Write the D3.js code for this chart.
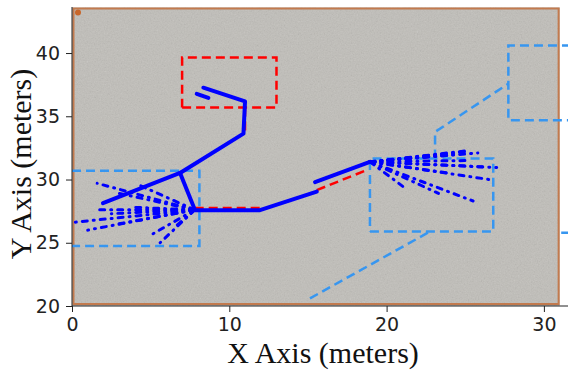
<!DOCTYPE html>
<html>
<head>
<meta charset="utf-8">
<script src="https://cdn.jsdelivr.net/npm/d3@7"></script>
<style>
  body { margin: 0; background: #fff; }
  .axis text { font-family: "DejaVu Sans", sans-serif; font-size: 19px; fill: #222; }
  .axis path, .axis line { stroke: #222; stroke-width: 1; }
  .title { font-family: "Liberation Serif", "DejaVu Serif", serif; font-size: 30px; fill: #111; }
</style>
</head>
<body>
<script>
// estimated path (solid blue)
const estPaths = [
  [[8.35, 37.26], [11.0, 36.18], [10.9, 33.63], [6.87, 30.52], [1.97, 28.13]],
  [[6.87, 30.52], [7.82, 27.58], [11.95, 27.58], [15.56, 29.05]],
  [[15.45, 29.79], [18.94, 31.4]],
  [[7.93, 36.77], [8.67, 36.45]]
];
// reference path pieces (red dashed)
const refPaths = [
  [[7.0, 35.7], [13.0, 35.7], [13.0, 39.65], [7.0, 39.65], [7.0, 35.7]],
  [[11.0, 35.7], [11.0, 33.6]],
  [[7.8, 27.75], [12.0, 27.75]],
  [[15.56, 29.16], [18.84, 30.8]]
];
// zones (light blue dashed)
const zonePaths = [
  [[0, 30.7], [8.1, 30.7], [8.1, 24.75], [0, 24.75]],
  [[18.94, 25.89], [26.78, 25.89], [26.78, 31.66], [18.94, 31.66], [18.94, 25.89]],
  [[15.13, 20.6], [22.76, 25.89]],
  [[23.08, 31.66], [23.08, 33.76], [27.74, 37.58]],
  [[33.5, 40.6], [27.74, 40.6], [27.74, 34.68], [33.5, 34.68]],
  [[31.1, 25.8], [34.0, 25.8]]
];
// predicted rollouts (blue dash-dot fans)
const fanLeftOrigin = [7.8, 27.6];
const fanLeftEnds = [[1.6, 29.7], [4.2, 29.6], [3.0, 28.9], [1.7, 27.6], [2.5, 27.3],
  [0.0, 26.6], [1.0, 26.0], [3.0, 26.5], [5.0, 25.6], [5.6, 25.0], [6.5, 26.2], [4.0, 27.8]];
const fanRightOrigin = [18.94, 31.4];
const fanRightEnds = [[25.3, 32.3], [25.0, 32.2], [24.5, 32.0], [23.5, 31.9], [25.8, 32.1],
  [25.1, 31.5], [26.1, 31.0], [27.0, 30.95], [26.8, 29.95], [25.5, 28.3], [23.3, 28.9],
  [21.2, 29.3], [24.0, 30.5]];
const xTicks = [0, 10, 20, 30];
const yTicks = [20, 25, 30, 35, 40];

const W = 568, H = 373;
const x = d3.scaleLinear().domain([0, 31.5]).range([72, 567.5]);
const y = d3.scaleLinear().domain([20, 43.6]).range([306, 7.5]);

const svg = d3.select(document.body).append('svg')
  .attr('width', W).attr('height', H);

const defs = svg.append('defs');
defs.append('clipPath').attr('id', 'clip')
  .append('rect').attr('x', 72).attr('y', 7).attr('width', W - 72).attr('height', 299);
const f = defs.append('filter').attr('id', 'noise')
  .attr('x', 0).attr('y', 0).attr('width', 1).attr('height', 1);
f.append('feTurbulence').attr('type', 'fractalNoise')
  .attr('baseFrequency', 0.7).attr('numOctaves', 3).attr('seed', 4);
f.append('feColorMatrix').attr('type', 'saturate').attr('values', 0);

// background texture
const bg = svg.append('g');
bg.append('rect')
  .attr('x', x(0)).attr('y', y(43.6))
  .attr('width', x(31) - x(0)).attr('height', y(20) - y(43.6))
  .attr('fill', '#c0beb9');
bg.append('rect')
  .attr('x', x(0)).attr('y', y(43.6))
  .attr('width', x(31) - x(0)).attr('height', y(20) - y(43.6))
  .attr('filter', 'url(#noise)').attr('opacity', 0.25);
bg.append('rect')
  .attr('x', x(0) + 1.5).attr('y', y(43.6) + 1)
  .attr('width', x(31) - x(0) - 2.5).attr('height', y(20) - y(43.6) - 3)
  .attr('fill', 'none').attr('stroke', '#c27a4e').attr('stroke-width', 2);
bg.append('circle').attr('cx', x(0) + 6).attr('cy', y(43.6) + 5).attr('r', 3)
  .attr('fill', '#c8662a');

const line = d3.line().x(d => x(d[0])).y(d => y(d[1]));
const plot = svg.append('g').attr('clip-path', 'url(#clip)');

plot.selectAll('.zone').data(zonePaths).enter().append('path')
  .attr('d', line).attr('fill', 'none')
  .attr('stroke', '#3796f0').attr('stroke-width', 2.5)
  .attr('stroke-dasharray', '9,5');

const fans = fanLeftEnds.map(e => [fanLeftOrigin, e])
  .concat(fanRightEnds.map(e => [fanRightOrigin, e]));
plot.selectAll('.fan').data(fans).enter().append('path')
  .attr('d', line).attr('fill', 'none')
  .attr('stroke', '#0000ff').attr('stroke-width', 3)
  .attr('stroke-linecap', 'round')
  .attr('stroke-dasharray', '5,6,1,6');

plot.selectAll('.ref').data(refPaths).enter().append('path')
  .attr('d', line).attr('fill', 'none')
  .attr('stroke', '#ff0000').attr('stroke-width', 2.5)
  .attr('stroke-dasharray', '9,5');

plot.selectAll('.est').data(estPaths).enter().append('path')
  .attr('d', line).attr('fill', 'none')
  .attr('stroke', '#0000ff').attr('stroke-width', 4)
  .attr('stroke-linecap', 'round').attr('stroke-linejoin', 'round');

// axes
svg.append('g').attr('class', 'axis')
  .attr('transform', 'translate(0,306)')
  .call(d3.axisBottom(x).tickValues(xTicks).tickSize(6).tickPadding(6).tickFormat(d3.format('d')))
  .call(g => g.select('.domain').attr('d', `M72,0H${W}`));
svg.append('g').attr('class', 'axis')
  .attr('transform', 'translate(72,0)')
  .call(d3.axisLeft(y).tickValues(yTicks).tickSize(6).tickPadding(6).tickFormat(d3.format('d')))
  .call(g => g.select('.domain').attr('d', 'M0,7V306'));

svg.append('text').attr('class', 'title')
  .attr('x', 323).attr('y', 363).attr('text-anchor', 'middle')
  .text('X Axis (meters)');
svg.append('text').attr('class', 'title')
  .attr('transform', 'translate(31,164) rotate(-90)')
  .attr('text-anchor', 'middle')
  .text('Y Axis (meters)');
</script>
</body>
</html>
